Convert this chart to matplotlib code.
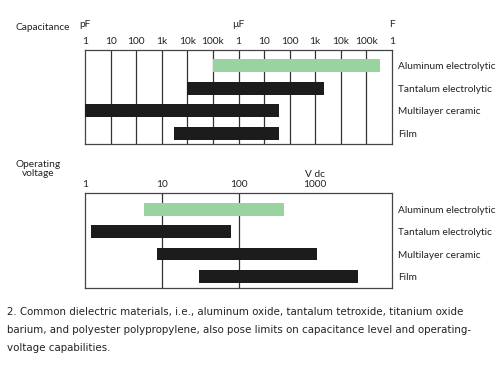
import matplotlib
matplotlib.use("Agg")
import matplotlib.pyplot as plt

categories = ["Aluminum electrolytic", "Tantalum electrolytic", "Multilayer ceramic", "Film"]
colors = ["#99d3a0", "#1c1c1c", "#1c1c1c", "#1c1c1c"]

# capacitance ranges in pF
cap_low = [1e5, 1e4, 1, 3e3]
cap_high = [3.3e11, 2.2e9, 3.7e7, 3.7e7]
cap_ticks = [10**k for k in range(13)]
cap_tick_labels = ["1", "10", "100", "1k", "10k", "100k", "1", "10", "100", "1k", "10k", "100k", "1"]
cap_units = [(1, "pF"), (1e6, "µF"), (1e12, "F")]

# voltage ranges in V dc
volt_low = [5.9, 1.2, 8.8, 31]
volt_high = [390, 80, 1050, 3650]
volt_ticks = [1, 10, 100, 1000]
volt_tick_labels = ["1", "10", "100", "1000"]

caption = ("2. Common dielectric materials, i.e., aluminum oxide, tantalum tetroxide, titanium oxide\n"
           "barium, and polyester polypropylene, also pose limits on capacitance level and operating-\n"
           "voltage capabilities.")

W, H = 500, 375
fig = plt.figure(figsize=(5, 3.75), dpi=100)
fig.patch.set_facecolor("white")

lab_font = dict(family=["Lato", "DejaVu Sans"], fontsize=7.3, color="#222222")


def make_panel(rect, low, high, xlim, ticks, tick_labels, ylim):
    ax = fig.add_axes(rect)
    ax.set_xscale("log")
    ax.set_xlim(*xlim)
    ax.set_ylim(*ylim)
    ypos = list(range(len(categories)))
    widths = [h - l for l, h in zip(low, high)]
    ax.barh(ypos, widths, left=low, height=0.57, color=colors, zorder=3)
    ax.set_xticks(ticks)
    ax.set_xticklabels(tick_labels, **lab_font)
    ax.xaxis.set_minor_locator(matplotlib.ticker.NullLocator())
    ax.xaxis.tick_top()
    ax.tick_params(axis="x", length=0, pad=3)
    for t in ticks[1:-1]:
        ax.axvline(t, color="#333333", lw=0.9, zorder=2)
    ax.yaxis.tick_right()
    ax.set_yticks(ypos)
    ax.set_yticklabels(categories, **lab_font)
    ax.tick_params(axis="y", length=0, pad=4.5)
    for s in ax.spines.values():
        s.set_color("#444444")
        s.set_linewidth(0.9)
    return ax


ax1 = make_panel([85 / W, 1 - 144 / H, 307 / W, 94 / H], cap_low, cap_high,
                 (1, 1e12), cap_ticks, cap_tick_labels, (3.46, -0.68))
for x, u in cap_units:
    ax1.annotate(u, xy=(x, 1), xycoords=("data", "axes fraction"),
                 xytext=(0, 15), textcoords="offset points", ha="center", va="bottom", **lab_font)

ax2 = make_panel([85 / W, 1 - 288 / H, 307 / W, 95 / H], volt_low, volt_high,
                 (1, 1e4), volt_ticks, volt_tick_labels, (3.52, -0.74))
ax2.annotate("V dc", xy=(1000, 1), xycoords=("data", "axes fraction"),
             xytext=(0, 10), textcoords="offset points", ha="center", va="bottom", **lab_font)

fig.text(15 / W, 1 - 27 / H, "Capacitance", ha="left", va="center", **lab_font)
fig.text(38 / W, 1 - 169 / H, "Operating\nvoltage", ha="center", va="center",
         linespacing=1.05, **lab_font)

fig.text(7 / W, 1 - 307 / H, caption, ha="left", va="top", family=["DejaVu Sans"],
         fontsize=7.4, color="#222222", linespacing=2.0)

fig.savefig("out.png", dpi=100, facecolor="white")
